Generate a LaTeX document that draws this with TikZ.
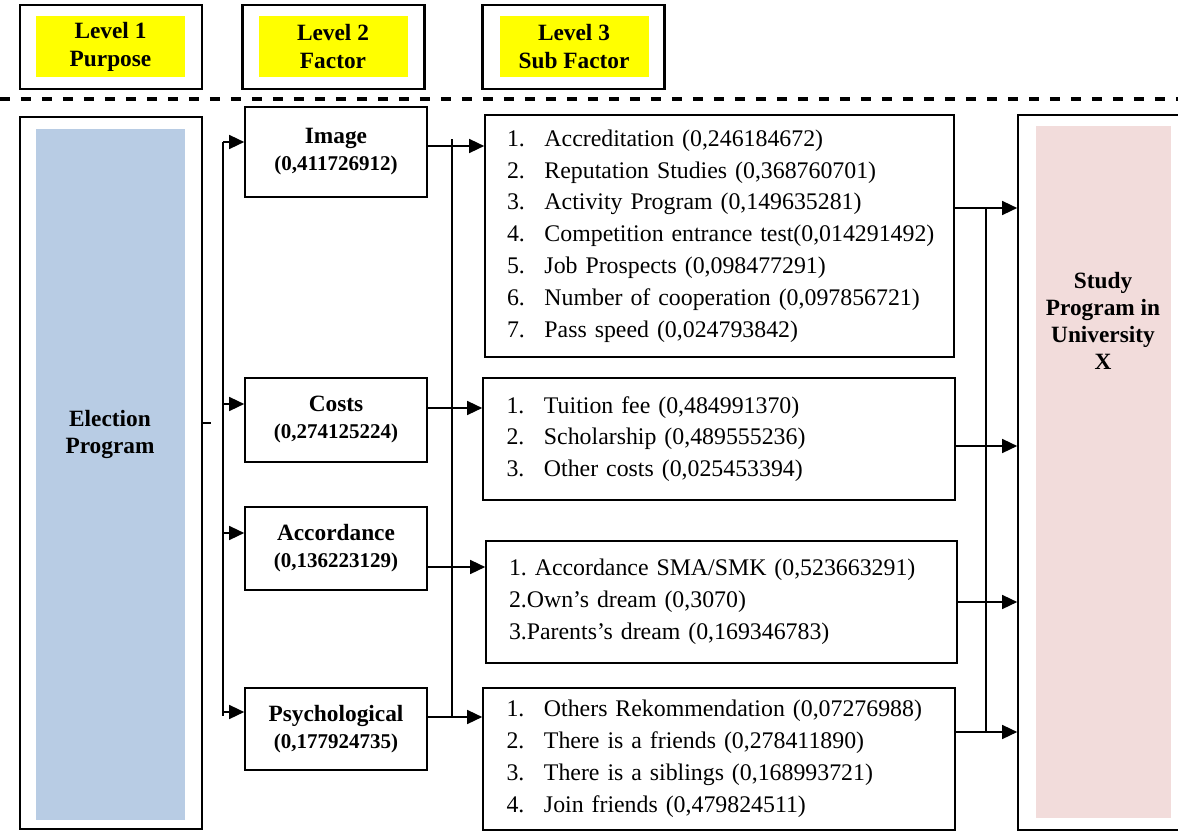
\documentclass[tikz,border=0pt]{standalone}
\usepackage{fontspec}
\setmainfont{Liberation Serif}
\usetikzlibrary{arrows.meta}
\frenchspacing

\definecolor{hdryellow}{HTML}{FFFF00}
\definecolor{electblue}{HTML}{B8CCE4}
\definecolor{studypink}{HTML}{F2DCDB}

\newcommand{\FNum}[1]{{\fontsize{12.6}{16.2}\selectfont #1}}
\newcommand{\SFI}[2]{\mbox{\makebox[22.5pt][l]{#1}#2}}

\tikzset{
	hdr box/.style={
		draw,
		line width=1.3pt,
		minimum width=109.2pt,
		minimum height=50.4pt
	},
	hdr fill/.style={
		fill=hdryellow,
		inner sep=0pt,
		minimum width=89.4pt,
		minimum height=36.6pt,
		align=center,
		font=\bfseries\fontsize{14}{16.8}\selectfont
	},
	fac box/.style={
		draw,
		line width=1pt,
		minimum width=109.2pt,
		align=center,
		font=\bfseries\fontsize{14}{16.2}\selectfont
	},
	sub box/.style={
		draw,
		line width=1pt,
		text width=255pt,
		align=left,
		font=\fontsize{14.3}{19.1}\selectfont
	},
	end box/.style={draw, line width=1pt},
	end text/.style={align=center, font=\bfseries\fontsize{14}{16.2}\selectfont},
	link/.style={line width=0.9pt},
	arr/.style={line width=0.9pt, -{Triangle[length=9pt,width=8.4pt]}}
}

\begin{document}
\begin{tikzpicture}[x=0.6pt,y=-0.6pt]

\clip (0,0) rectangle (1178,832);

% level headers
\node[hdr box]  (lv1)  at (111,47)     {};
\node[hdr fill] (lv1t) at (110.5,46.5) {Level 1\\Purpose};
\node[hdr box]  (lv2)  at (333.5,47)   {};
\node[hdr fill] (lv2t) at (333,46.5)   {Level 2\\Factor};
\node[hdr box]  (lv3)  at (573.5,47)   {};
\node[hdr fill] (lv3t) at (574,46.5)   {Level 3\\Sub Factor};

\draw[line width=2.4pt, dash pattern=on 6pt off 6.6pt] (0,99) -- (1178,99);

% purpose
\node[end box, minimum width=109.2pt, minimum height=427.2pt] (elect) at (111,473) {};
\node[fill=electblue, minimum width=89.4pt, minimum height=414.6pt] (electf) at (110.5,474.5) {};
\node[end text] (electt) at (110,434.5) {Election\\Program};

% target
\node[end box, minimum width=102.6pt, minimum height=429pt] (study) at (1103.5,472.5) {};
\node[fill=studypink, minimum width=81pt, minimum height=415.2pt] (studyf) at (1103.5,472) {};
\node[end text] (studyt) at (1103,321) {Study\\Program in\\University\\X};

% factors
\node[fac box, minimum height=54pt]   (img)  at (336,152)   {Image\\\FNum{(0,411726912)}};
\node[fac box, minimum height=50.4pt] (cost) at (336,420)   {Costs\\\FNum{(0,274125224)}};
\node[fac box, minimum height=49.8pt] (acc)  at (336,548.5) {Accordance\\\FNum{(0,136223129)}};
\node[fac box, minimum height=49.2pt] (psy)  at (336,729)   {Psychological\\\FNum{(0,177924735)}};

% sub factors
\node[sub box, minimum width=281.4pt, minimum height=145.2pt] (subimg) at (719.5,236) {
	\SFI{1.}{Accreditation (0,246184672)}\\
	\SFI{2.}{Reputation Studies (0,368760701)}\\
	\SFI{3.}{Activity Program (0,149635281)}\\
	\SFI{4.}{Competition entrance test(0,014291492)}\\
	\SFI{5.}{Job Prospects (0,098477291)}\\
	\SFI{6.}{Number of cooperation (0,097856721)}\\
	\SFI{7.}{Pass speed (0,024793842)}
};
\node[sub box, minimum width=283.2pt, minimum height=73.2pt] (subcost) at (719,439) {
	\SFI{1.}{Tuition fee (0,484991370)}\\
	\SFI{2.}{Scholarship (0,489555236)}\\
	\SFI{3.}{Other costs (0,025453394)}
};
\node[sub box, minimum width=282.6pt, minimum height=73.2pt] (subacc) at (721.5,602) {
	1. Accordance SMA/SMK (0,523663291)\\
	2.Own’s dream (0,3070)\\
	3.Parents’s dream (0,169346783)
};
\node[sub box, minimum width=283.2pt, minimum height=85.2pt] (subpsy) at (719,759) {
	\SFI{1.}{Others Rekommendation (0,07276988)}\\
	\SFI{2.}{There is a friends (0,278411890)}\\
	\SFI{3.}{There is a siblings (0,168993721)}\\
	\SFI{4.}{Join friends (0,479824511)}
};

% purpose -> factors
\coordinate (stub) at (211,423);
\draw[link] (elect.east |- stub) -- (stub);
\coordinate (bl1) at (223,142);
\coordinate (bl2) at (223,404);
\coordinate (bl3) at (223,533);
\coordinate (bl4) at (223,712);
\draw[link] (bl1) -- (223,716);
\draw[arr] (bl1) -- (bl1 -| img.west);
\draw[arr] (bl2) -- (bl2 -| cost.west);
\draw[arr] (bl3) -- (bl3 -| acc.west);
\draw[arr] (bl4) -- (bl4 -| psy.west);

% factors -> sub factors
\coordinate (bm0) at (452,139);
\coordinate (bm1) at (452,146);
\coordinate (bm2) at (452,408);
\coordinate (bm3) at (452,567);
\coordinate (bm4) at (452,717);
\draw[link] (bm0) -- (bm4);
\draw[arr] (bm1 -| img.east)  -- (bm1 -| subimg.west);
\draw[arr] (bm2 -| cost.east) -- (bm2 -| subcost.west);
\draw[arr] (bm3 -| acc.east)  -- (bm3 -| subacc.west);
\draw[arr] (bm4 -| psy.east)  -- (bm4 -| subpsy.west);

% sub factors -> target
\coordinate (br1) at (986,208);
\coordinate (br2) at (986,446);
\coordinate (br3) at (986,602);
\coordinate (br4) at (986,732);
\draw[link] (br1) -- (br4);
\draw[arr] (br1 -| subimg.east)  -- (br1 -| study.west);
\draw[arr] (br2 -| subcost.east) -- (br2 -| study.west);
\draw[arr] (br3 -| subacc.east)  -- (br3 -| study.west);
\draw[arr] (br4 -| subpsy.east)  -- (br4 -| study.west);

\end{tikzpicture}
\end{document}
